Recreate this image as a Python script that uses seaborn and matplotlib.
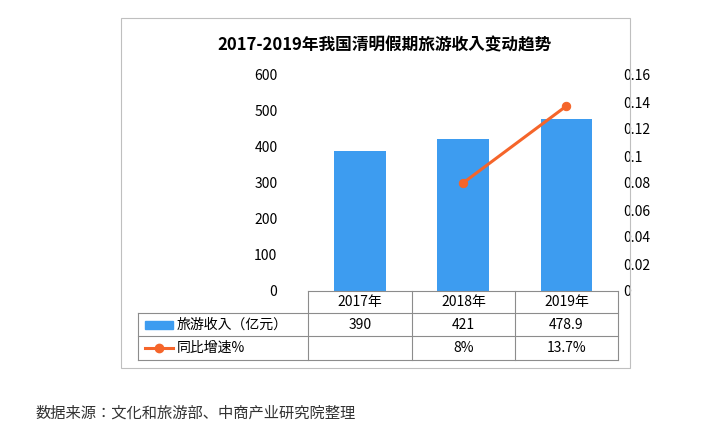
import numpy as np
import pandas as pd
import matplotlib
matplotlib.use("Agg")
import matplotlib.pyplot as plt
import seaborn as sns
from matplotlib import font_manager
from matplotlib.lines import Line2D
from matplotlib.patches import Rectangle

cjk = [f.name for f in font_manager.fontManager.ttflist if "CJK" in f.name]
sc = [n for n in cjk if "SC" in n] or cjk
plt.rcParams["font.family"] = "sans-serif"
plt.rcParams["font.sans-serif"] = sc[:1] + ["DejaVu Sans"]

years = ["2017年", "2018年", "2019年"]
income = [390, 421, 478.9]
growth = [None, 0.08, 0.137]
income_labels = ["390", "421", "478.9"]
growth_labels = ["", "8%", "13.7%"]
left_ticks = [0, 100, 200, 300, 400, 500, 600]
right_ticks = [0, 0.02, 0.04, 0.06, 0.08, 0.1, 0.12, 0.14, 0.16]

W, H = 712, 437
fig = plt.figure(figsize=(W / 100, H / 100), dpi=100)

def fx(px):
    return px / W

def fy(py):
    return 1 - py / H

# outer frame
fig.add_artist(Rectangle((fx(121), fy(368)), fx(630) - fx(121), fy(18) - fy(368),
                         transform=fig.transFigure, fill=False, ec="#bfbfbf", lw=0.8))

ax = fig.add_axes([fx(308), fy(291), fx(618) - fx(308), fy(75) - fy(291)])
df = pd.DataFrame({"year": years, "income": income})
sns.barplot(data=df, x="year", y="income", color="#3d9cf0", width=0.5, ax=ax, saturation=1)
ax.set_ylim(0, 600)
ax.set_yticks(left_ticks)
ax.set_xlim(-0.5, 2.5)
ax.set_xticks([])
ax.set_xlabel("")
ax.set_ylabel("")
for s in ax.spines.values():
    s.set_visible(False)
ax.tick_params(axis="y", length=0, labelsize=10, pad=22)

ax2 = ax.twinx()
gx = [i for i, g in enumerate(growth) if g is not None]
gy = [g for g in growth if g is not None]
sns.lineplot(x=gx, y=gy, color="#f5652a", lw=2.2, marker="o", markersize=6,
             markeredgecolor="#f5652a", ax=ax2)
ax2.set_ylim(0, 0.16)
ax2.set_yticks(right_ticks)
ax2.set_yticklabels(["0", "0.02", "0.04", "0.06", "0.08", "0.1", "0.12", "0.14", "0.16"])
ax2.set_xlim(-0.5, 2.5)
for s in ax2.spines.values():
    s.set_visible(False)
ax2.tick_params(axis="y", length=0, labelsize=10, pad=4)

fig.text(fx(385), fy(45), "2017-2019年我国清明假期旅游收入变动趋势", ha="center", va="center",
         fontsize=12, fontweight="bold")

# table
cols = [308, 412, 515, 618]
lc = "#8c8c8c"
def hline(y, x0, x1):
    fig.add_artist(Line2D([fx(x0), fx(x1)], [fy(y), fy(y)], color=lc, lw=0.8, transform=fig.transFigure))
def vline(x, y0, y1):
    fig.add_artist(Line2D([fx(x), fx(x)], [fy(y0), fy(y1)], color=lc, lw=0.8, transform=fig.transFigure))
hline(291, 308, 618)
hline(313, 138, 618)
hline(336, 138, 618)
hline(360, 138, 618)
vline(138, 313, 360)
for c in cols:
    vline(c, 291, 360)
for i in range(3):
    cx = (cols[i] + cols[i + 1]) / 2
    fig.text(fx(cx), fy(302), years[i], ha="center", va="center", fontsize=10)
    fig.text(fx(cx), fy(325), income_labels[i], ha="center", va="center", fontsize=10)
    fig.text(fx(cx), fy(348), growth_labels[i], ha="center", va="center", fontsize=10)
fig.add_artist(Rectangle((fx(145), fy(329)), fx(28), fy(321) - fy(329),
                         transform=fig.transFigure, color="#3d9cf0"))
fig.text(fx(177), fy(325), "旅游收入（亿元）", va="center", fontsize=10)
fig.add_artist(Line2D([fx(145), fx(173)], [fy(348), fy(348)], color="#f5652a", lw=2.2,
                      transform=fig.transFigure))
fig.add_artist(Line2D([fx(159)], [fy(348)], color="#f5652a", marker="o", markersize=6,
                      transform=fig.transFigure))
fig.text(fx(177), fy(348), "同比增速%", va="center", fontsize=10)

fig.text(fx(35), fy(413), "数据来源：文化和旅游部、中商产业研究院整理", va="center", fontsize=11, color="#333333")

fig.savefig("out.png", dpi=100)
